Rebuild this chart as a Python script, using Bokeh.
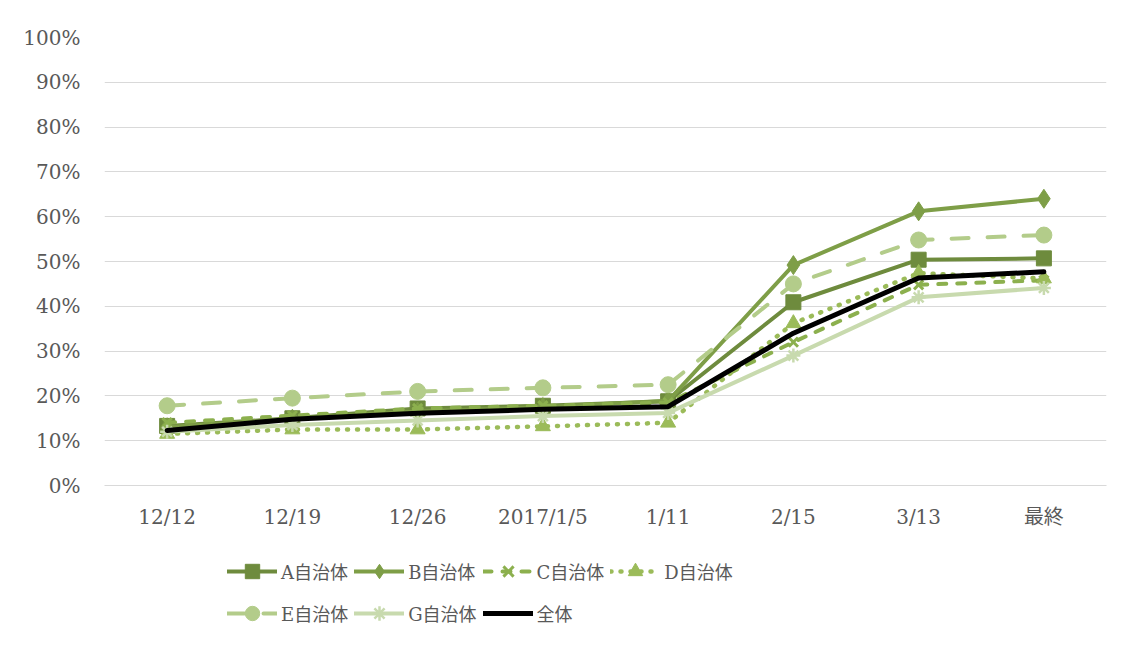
import numpy as np
from bokeh.plotting import figure
from bokeh.layouts import column
from bokeh.models import Legend, LegendItem, FactorRange, FixedTicker, NumeralTickFormatter, ColumnDataSource
from bokeh.embed import file_html
from bokeh.resources import INLINE

categories = ["12/12", "12/19", "12/26", "2017/1/5", "1/11", "2/15", "3/13", "最終"]

a_vals = [0.133, 0.150, 0.172, 0.178, 0.188, 0.409, 0.504, 0.507]
b_vals = [0.130, 0.149, 0.165, 0.175, 0.189, 0.492, 0.612, 0.640]
c_vals = [0.140, 0.156, 0.172, 0.178, 0.185, 0.320, 0.448, 0.458]
d_vals = [0.115, 0.125, 0.125, 0.132, 0.140, 0.362, 0.474, 0.462]
e_vals = [0.178, 0.195, 0.210, 0.218, 0.225, 0.450, 0.548, 0.559]
g_vals = [0.120, 0.135, 0.145, 0.155, 0.162, 0.290, 0.420, 0.441]
total_vals = [0.123, 0.148, 0.161, 0.170, 0.176, 0.340, 0.463, 0.477]

series_labels = ["A自治体", "B自治体", "C自治体", "D自治体", "E自治体", "G自治体", "全体"]

SERIF = "DejaVu Serif, Noto Sans CJK JP"

p = figure(width=1124, height=540, x_range=FactorRange(*categories, range_padding=0),
           y_range=(0, 1), output_backend="svg", toolbar_location=None,
           min_border_left=104, min_border_right=18, min_border_top=37, min_border_bottom=55)
p.x_range.range_padding = 0
p.outline_line_color = None
p.background_fill_color = "white"
p.border_fill_color = "white"

p.xgrid.grid_line_color = None
p.ygrid.grid_line_color = "#D9D9D9"
p.ygrid.grid_line_width = 1
p.yaxis.ticker = FixedTicker(ticks=[i / 10 for i in range(11)])
p.yaxis.formatter = NumeralTickFormatter(format="0%")
for ax in (p.xaxis, p.yaxis):
    ax.major_tick_line_color = None
    ax.minor_tick_line_color = None
    ax.major_label_text_font = SERIF
    ax.major_label_text_font_size = "20px"
    ax.major_label_text_color = "#595959"
p.yaxis.axis_line_color = None
p.xaxis.axis_line_color = "#D9D9D9"
p.xaxis.major_label_standoff = 13
p.yaxis.major_label_standoff = 18

specs = [
    (a_vals, "#6E8B3D", "solid", 4, "square", 15, 1),
    (b_vals, "#7E9E47", "solid", 4, "diamond", 19, 1),
    (c_vals, "#8CB04E", "8 11", 4, "x", 13, 3),
    (d_vals, "#9BBB59", "1 9", 4.5, "triangle", 15, 1),
    (e_vals, "#B3CC8A", "17 19", 4, "circle", 16, 1),
    (g_vals, "#C8DAAE", "solid", 4, "asterisk", 14, 2.5),
    (total_vals, "#000000", "solid", 5, None, 0, 1),
]

# legend strip (second figure, holds only the legend keys; its renderers carry no visible data)
p2 = figure(width=1124, height=98, x_range=(0, 1), y_range=(0, 1), output_backend="svg",
            toolbar_location=None, min_border_left=0, min_border_right=0,
            min_border_top=0, min_border_bottom=0)
p2.axis.visible = False
p2.grid.visible = False
p2.outline_line_color = None
p2.border_fill_color = "white"

items = []
for (vals, color, dash, lw, marker, msize, mlw), label in zip(specs, series_labels):
    src = ColumnDataSource(dict(x=categories, y=vals))
    p.line("x", "y", source=src, line_color=color, line_width=lw, line_dash=dash,
           line_cap="round", line_join="round")
    if marker:
        p.scatter("x", "y", source=src, marker=marker, size=msize,
                  fill_color=color, line_color=color, line_width=mlw)
    blank = ColumnDataSource(dict(x=[np.nan], y=[np.nan]))
    lr = p2.line("x", "y", source=blank, line_color=color, line_width=lw, line_dash=dash,
                 line_cap="round", line_join="round")
    rs = [lr]
    if marker:
        sr = p2.scatter("x", "y", source=blank, marker=marker, size=msize,
                        fill_color=color, line_color=color, line_width=mlw)
        rs.append(sr)
    items.append(LegendItem(label=label, renderers=rs))

legend = Legend(items=items, ncols=4, orientation="horizontal", location=(123, 7))
legend.glyph_width = 50
legend.glyph_height = 36
legend.label_height = 36
legend.label_standoff = 4
legend.spacing = 6
legend.padding = 0
legend.margin = 0
legend.border_line_color = None
legend.background_fill_alpha = 0
legend.label_text_font = SERIF
legend.label_text_font_size = "18px"
legend.label_text_color = "#595959"
p2.add_layout(legend, "center")

layout = column(p, p2, spacing=0)
open("out.html", "w").write(file_html(layout, INLINE))
